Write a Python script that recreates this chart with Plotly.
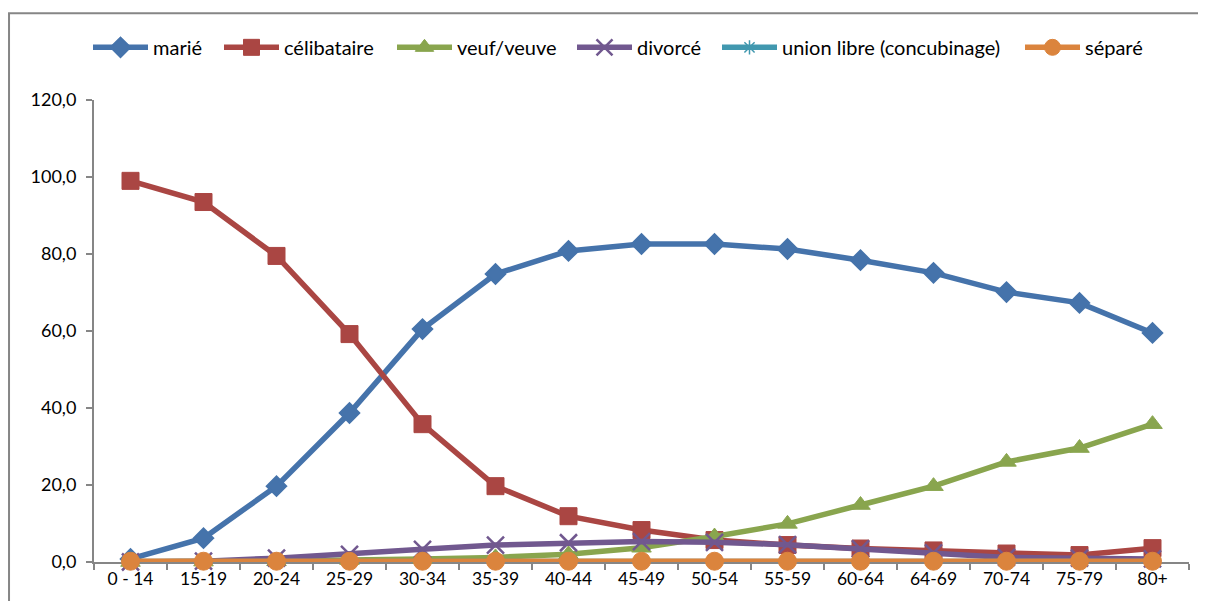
import plotly.graph_objects as go

categories = ["0 - 14", "15-19", "20-24", "25-29", "30-34", "35-39", "40-44", "45-49",
              "50-54", "55-59", "60-64", "64-69", "70-74", "75-79", "80+"]

marie = [0.8, 6.2, 19.7, 38.7, 60.5, 74.8, 80.8, 82.6, 82.6, 81.3, 78.4, 75.1, 70.1, 67.3, 59.5]
celibataire = [99.0, 93.5, 79.5, 59.2, 35.8, 19.7, 11.9, 8.3, 5.7, 4.4, 3.5, 3.0, 2.2, 1.8, 3.6]
veuf = [0.0, 0.1, 0.2, 0.5, 0.8, 1.2, 2.0, 3.7, 6.6, 9.9, 14.8, 19.7, 26.0, 29.6, 35.8]
divorce = [0.0, 0.2, 1.0, 2.0, 3.3, 4.4, 5.0, 5.3, 5.1, 4.5, 3.4, 2.4, 1.2, 1.0, 0.8]
union_libre = [0.1, 0.1, 0.1, 0.1, 0.1, 0.1, 0.1, 0.1, 0.1, 0.1, 0.1, 0.1, 0.1, 0.1, 0.1]
separe = [0.2, 0.2, 0.2, 0.2, 0.2, 0.2, 0.2, 0.2, 0.2, 0.2, 0.2, 0.2, 0.2, 0.2, 0.2]

y_ticks = [0, 20, 40, 60, 80, 100, 120]

series = [
    ("marié", marie, "#4573AB", "diamond", 15, 2),
    ("célibataire", celibataire, "#AA4643", "square", 17, 1),
    ("veuf/veuve", veuf, "#89A54E", "triangle-up", 17, 1),
    ("divorcé", divorce, "#71588F", "x-thin-open", 17, 2.5),
    ("union libre (concubinage)", union_libre, "#4198AF", "asterisk-open", 12, 1.5),
    ("séparé", separe, "#DB843D", "circle", 18, 1),
]

# legend line-start positions (page px) of each entry
legend_px = [93, 224, 397, 577, 722, 1025]

W, H = 1190, 593
ML, MR, MT, MB = 86, 9, 92, 39
PW = W - ML - MR

fig = go.Figure()
layout_legends = {}
for i, (name, vals, color, sym, size, lw) in enumerate(series):
    lname = "legend" if i == 0 else f"legend{i + 1}"
    fig.add_trace(go.Scatter(
        x=categories, y=vals, name=name, mode="lines+markers",
        line=dict(color=color, width=5.5), cliponaxis=False,
        marker=dict(symbol=sym, size=size, color=color,
                    line=dict(color=color, width=lw)),
        legend=lname,
    ))
    layout_legends[lname] = dict(
        orientation="h", x=(legend_px[i] - 8 - 5 - ML) / PW, xanchor="left",
        y=1.114, yanchor="middle", font=dict(size=20), itemwidth=55,
        bgcolor="rgba(0,0,0,0)", borderwidth=0,
    )

fig.update_layout(
    width=W, height=H,
    margin=dict(l=ML, r=MR, t=MT, b=MB, autoexpand=False),
    paper_bgcolor="white", plot_bgcolor="white",
    font=dict(family="Lato, Calibri, sans-serif", size=18, color="#000000"),
    separators=",.",
    showlegend=True,
    xaxis=dict(
        type="category", range=[-0.5, 14.5], showgrid=False,
        showline=True, linecolor="#868686", linewidth=2, layer="below traces",
        ticks="outside", tickson="boundaries", ticklen=6, tickcolor="#868686", tickwidth=1.5,
        tickfont=dict(size=17.5), zeroline=False,
    ),
    yaxis=dict(
        range=[0, 120], tickvals=y_ticks, tickformat=".1f", showgrid=False,
        showline=True, linecolor="#868686", linewidth=2, layer="below traces",
        ticks="outside", ticklen=6, tickcolor="#868686", tickwidth=1.5,
        tickfont=dict(size=18), zeroline=False, ticklabelstandoff=6,
    ),
    shapes=[dict(type="rect", xref="paper", yref="paper",
                 x0=-0.0776, x1=1.03, y0=-0.15, y1=1.188,
                 line=dict(color="#868686", width=2), fillcolor="rgba(0,0,0,0)", layer="below")],
    **layout_legends,
)

fig.write_html("out.html")
